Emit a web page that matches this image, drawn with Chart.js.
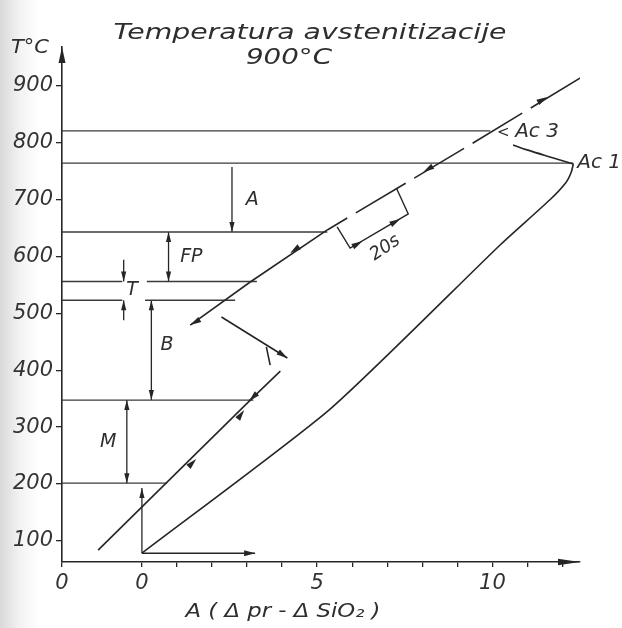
<!DOCTYPE html>
<html>
<head>
<meta charset="utf-8">
<script src="https://cdn.jsdelivr.net/npm/chart.js@4.4.0/dist/chart.umd.min.js"></script>
<style>
  html, body { margin: 0; padding: 0; background: #fff; }
  canvas { display: block; }
</style>
</head>
<body>
<canvas id="dilatogram" width="622" height="628"></canvas>
<script>
// x: dilatation A (Δpr - ΔSiO2), y: temperature in °C
const xTicks = [-2.28, 0, 1, 2, 3, 4, 5, 6, 7, 8, 9, 10, 11, 12];
const xTickLabels = ['0', '0', '', '', '', '', '5', '', '', '', '', '10', '', ''];
const yTicks = [100, 200, 300, 400, 500, 600, 700, 800, 900];

// heating from room temperature up to Ac1, then back to Ac3
const heatX = [0, 5.37, 10.22, 11.65, 12.1, 12.25, 12.31];
const heatT = [78.5, 331.7, 620.1, 700, 730, 748, 762.5];
const ac3X = [12.31, 11.74, 10.99, 10.59];
const ac3T = [762.5, 773.1, 787.2, 796];

// austenite line (dashed) and the cooling part below A1
const austX = [12.51, 9.31, 5.29];
const austT = [913.7, 794.2, 646.5];
const coolX = [5.29, 3.09, 1.38];
const coolT = [646.5, 555, 479.4];

// 20 s time bracket
const bracketX = [5.57, 5.94, 7.60, 7.26];
const bracketT = [651.8, 614.8, 674.6, 720.3];

// bainite and martensite branches
const bainX = [2.27, 4.15];
const bainT = [493.5, 421.4];
const bain2X = [3.55, 3.66];
const bain2T = [440.9, 409.1];
const bain3X = [3.95, 3.06];
const bain3T = [398.5, 345.8];
const martX = [3.15, -1.25];
const martT = [351, 83.8];

// horizontal temperature levels (Ac3, Ac1, A/FP, T, T, B/M, Ms end)
const levelT    = [820.6, 764, 643, 556, 556, 523, 523, 347.5, 201.6];
const levelFrom = [-2.28, -2.28, -2.28, -2.28, 0.14, -2.28, 0.09, -2.28, -2.28];
const levelTo   = [9.94, 12.31, 5.29, -0.56, 3.28, -0.56, 2.66, 3.18, 0.72];

// vertical range arrows: A, FP, T (top), T (bottom), B, M, origin
const rangeX    = [2.57, 0.76, -0.52, -0.52, 0.27, -0.43, 0];
const rangeFrom = [757, 643, 594, 488, 523, 347.5, 78.5];
const rangeTo   = [643, 556, 556, 523, 347.5, 201.6, 193];
const rangeBoth = [false, true, false, false, true, true, false];

// origin horizontal arrow
const baseX = [0, 3.23];
const baseT = [78.5, 78.5];

// arrowheads along the curves (from -> to)
const headFromX = [1.67, 3.81, 3.43, 1.24, 2.71, 11.22, 8.31, 4.52, 6.09, 7.17, 2.90];
const headFromT = [489.8, 435.5, 368.6, 224.5, 312.4, 867.9, 759, 618.3, 619.6, 658.8, 78.5];
const headToX   = [1.38, 4.15, 3.06, 1.55, 2.92, 11.57, 8.03, 4.23, 6.29, 7.37, 3.23];
const headToT   = [479.4, 421.4, 345.8, 243.8, 330, 880.2, 748.5, 606, 626.6, 665.8, 78.5];

// annotations
const noteText = ['A', 'FP', 'T', 'B', 'M', '20s', '<', 'Ac 3', 'Ac 1'];
const noteX = [3.15, 1.41, -0.28, 0.72, -0.96, 6.94, 10.31, 10.65, 12.42];
const noteT = [699, 599, 541, 444, 274, 615, 817, 819, 764];

const ink = '#262626';
const font = '"DejaVu Sans", sans-serif';

function line(xs, ts, extra) {
  return Object.assign({
    data: xs.map((x, i) => ({ x: x, y: ts[i] })),
    showLine: true,
    pointRadius: 0,
    borderColor: ink,
    borderWidth: 1.6,
    tension: 0,
    fill: false
  }, extra || {});
}

const datasets = [
  line(heatX, heatT, { tension: 0.2 }),
  line(ac3X, ac3T, { tension: 0.35 }),
  line(austX, austT, { borderDash: [58, 10] }),
  line(coolX, coolT),
  line(bracketX, bracketT, { borderWidth: 1.4 }),
  line(bainX, bainT),
  line(bain2X, bain2T),
  line(bain3X, bain3T),
  line(martX, martT),
  line(baseX, baseT)
];
levelT.forEach((t, i) => {
  datasets.push(line([levelFrom[i], levelTo[i]], [t, t], { borderColor: '#3a3a3a', borderWidth: 1.4 }));
});
rangeX.forEach((u, i) => {
  datasets.push(line([u, u], [rangeFrom[i], rangeTo[i]], { borderWidth: 1.3 }));
});

function head(ctx, a, b, len, w) {
  len = len || 11; w = w || 3;
  const ang = Math.atan2(b[1] - a[1], b[0] - a[0]);
  const c = Math.cos(ang), s = Math.sin(ang);
  ctx.beginPath();
  ctx.moveTo(b[0], b[1]);
  ctx.lineTo(b[0] - len * c + w * s, b[1] - len * s - w * c);
  ctx.lineTo(b[0] - len * c - w * s, b[1] - len * s + w * c);
  ctx.closePath();
  ctx.fill();
}

function stretchText(ctx, text, cx, cy, size, width, align, rot) {
  ctx.save();
  ctx.font = 'italic ' + size + 'px ' + font;
  const w = ctx.measureText(text).width;
  const k = width ? width / w : 1;
  ctx.translate(cx, cy);
  if (rot) ctx.rotate(rot);
  ctx.scale(k, 1);
  ctx.textAlign = align || 'center';
  ctx.textBaseline = 'middle';
  ctx.fillText(text, 0, 0);
  ctx.restore();
}

const inkPlugin = {
  id: 'ink',
  beforeDraw(chart) {
    const ctx = chart.ctx;
    const g = ctx.createLinearGradient(0, 0, 40, 0);
    g.addColorStop(0, '#d9d9d9');
    g.addColorStop(0.5, '#f3f3f3');
    g.addColorStop(1, '#ffffff');
    ctx.save();
    ctx.fillStyle = '#ffffff';
    ctx.fillRect(0, 0, chart.width, chart.height);
    ctx.fillStyle = g;
    ctx.fillRect(0, 0, 40, chart.height);
    ctx.restore();
  },
  afterDatasetsDraw(chart) {
    const ctx = chart.ctx, xs = chart.scales.x, ys = chart.scales.y;
    const P = (u, t) => [xs.getPixelForValue(u), ys.getPixelForValue(t)];
    ctx.save();
    ctx.fillStyle = ink;
    headToX.forEach((u, i) => head(ctx, P(headFromX[i], headFromT[i]), P(u, headToT[i])));
    rangeX.forEach((u, i) => {
      const a = P(u, rangeFrom[i]), b = P(u, rangeTo[i]);
      head(ctx, a, b, 10, 2.6);
      if (rangeBoth[i]) head(ctx, b, a, 10, 2.6);
    });
    const ca = chart.chartArea;
    head(ctx, [ca.left, ca.top + 18], [ca.left, ca.top], 16, 3.5);
    head(ctx, [ca.right - 22, ca.bottom], [ca.right, ca.bottom], 22, 3.2);

    ctx.fillStyle = '#2e2e2e';
    noteText.forEach((t, i) => {
      const p = P(noteX[i], noteT[i]);
      if (t === '20s') stretchText(ctx, t, p[0], p[1], 18, 0, 'center', -0.6);
      else if (t.indexOf('Ac') === 0) stretchText(ctx, t, p[0], p[1], 20, 0, 'left');
      else if (t === '<') stretchText(ctx, t, p[0], p[1], 15, 0, 'center');
      else stretchText(ctx, t, p[0], p[1], 19, 0, 'center');
    });

    stretchText(ctx, 'Temperatura avstenitizacije', 310, 33, 22, 393);
    stretchText(ctx, '900°C', 289, 58, 22, 86);
    stretchText(ctx, 'T°C', 30, 48, 19, 38);
    stretchText(ctx, 'A ( Δ pr - Δ SiO₂ )', 283, 612, 20, 195);
    ctx.restore();
  }
};

const tickFont = { family: font, size: 21, style: 'italic' };

new Chart(document.getElementById('dilatogram'), {
  type: 'scatter',
  data: { datasets: datasets },
  options: {
    responsive: false,
    animation: false,
    layout: { padding: { top: 47, right: 42, left: 0, bottom: 0 } },
    plugins: { legend: { display: false }, tooltip: { enabled: false } },
    scales: {
      x: {
        type: 'linear',
        min: -2.28,
        max: 12.5,
        afterBuildTicks: s => { s.ticks = xTicks.map(v => ({ value: v })); },
        afterFit: s => { s.height = 66; },
        border: { color: ink, width: 1.6 },
        grid: { drawOnChartArea: false, color: ink, tickLength: 5, lineWidth: 1.3 },
        ticks: {
          autoSkip: false, maxRotation: 0, padding: 4, color: '#333', font: tickFont,
          callback: (v, i) => xTickLabels[i]
        }
      },
      y: {
        type: 'linear',
        min: 63,
        max: 968,
        afterBuildTicks: s => { s.ticks = yTicks.map(v => ({ value: v })); },
        afterFit: s => { s.width = 62; },
        border: { color: ink, width: 1.6 },
        grid: { drawOnChartArea: false, color: ink, tickLength: 6, lineWidth: 1.3 },
        ticks: {
          autoSkip: false, padding: 3, color: '#333', font: tickFont,
          callback: v => String(v)
        }
      }
    }
  },
  plugins: [inkPlugin]
});
</script>
</body>
</html>
